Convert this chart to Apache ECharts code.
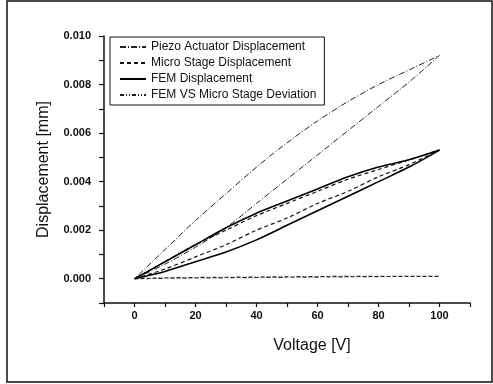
<!DOCTYPE html>
<html>
<head>
<meta charset="utf-8">
<script src="https://cdn.jsdelivr.net/npm/echarts@6/dist/echarts.min.js"></script>
<style>
  html, body { margin: 0; padding: 0; background: #fff; }
  #chart { width: 493px; height: 384px; }
</style>
</head>
<body>
<div id="chart"></div>
<script>
// voltage steps, up sweep then down sweep (hysteresis loops)
const voltage = [0, 10, 20, 30, 40, 50, 60, 70, 80, 90, 100];

const piezoUp = [0, 0.0006, 0.0013, 0.0021, 0.0031, 0.0041, 0.0051, 0.0061, 0.0071, 0.0081, 0.0092];
const piezoDown = [0, 0.0012, 0.0024, 0.0035, 0.0046, 0.0056, 0.0065, 0.0073, 0.0080, 0.0086, 0.0092];

const stageUp = [0, 0.0004, 0.0009, 0.0014, 0.0020, 0.0025, 0.0031, 0.0036, 0.0042, 0.0047, 0.0053];
const stageDown = [0, 0.0007, 0.0014, 0.0020, 0.0026, 0.0031, 0.0036, 0.0041, 0.0045, 0.0049, 0.0053];

const femUp = [0, 0.0003, 0.0007, 0.0011, 0.0016, 0.0022, 0.0028, 0.0034, 0.0040, 0.0046, 0.0053];
const femDown = [0, 0.0007, 0.0014, 0.0021, 0.0027, 0.0032, 0.0037, 0.0042, 0.0046, 0.0049, 0.0053];

const devUp = [0, 0.00002, 0.00003, 0.00004, 0.00005, 0.00006, 0.00007, 0.00008, 0.00009, 0.0001, 0.0001];
const devDown = [0, 0.00004, 0.00005, 0.00006, 0.00007, 0.00008, 0.00009, 0.0001, 0.0001, 0.0001, 0.0001];

const names = [
  'Piezo Actuator Displacement',
  'Micro Stage Displacement',
  'FEM Displacement',
  'FEM VS Micro Stage Deviation',
];

function loop(up, down) {
  const pts = voltage.map((v, i) => [v, up[i]]);
  for (let i = voltage.length - 2; i >= 0; i--) {
    pts.push([voltage[i], down[i]]);
  }
  return pts;
}

const chart = echarts.init(document.getElementById('chart'));
const font = 'Liberation Sans, Arial, sans-serif';

const option = {
  animation: false,
  backgroundColor: '#fff',
  color: ['#222', '#111', '#000', '#222'],
  graphic: [
    {
      type: 'rect',
      shape: { x: 7, y: 1, width: 485, height: 381 },
      style: { fill: 'none', stroke: '#111', lineWidth: 1.5 },
      silent: true,
    },
  ],
  legend: {
    data: names,
    orient: 'vertical',
    left: 110,
    top: 37,
    itemWidth: 26,
    itemHeight: 10,
    itemGap: 4,
    padding: [4, 8, 4, 9],
    borderColor: '#111',
    borderWidth: 1,
    itemStyle: { opacity: 0 },
    textStyle: { fontFamily: font, fontSize: 12, color: '#111' },
  },
  grid: {
    left: 104,
    right: 23,
    top: 36,
    bottom: 81,
  },
  xAxis: {
    type: 'value',
    min: -10,
    max: 110,
    interval: 10,
    name: 'Voltage [V]',
    nameLocation: 'middle',
    nameGap: 35,
    nameTextStyle: { fontFamily: font, fontSize: 16, color: '#111', padding: [0, 0, 0, 50] },
    axisLine: { onZero: false, lineStyle: { color: '#111', width: 1.5 } },
    axisTick: { length: 4, lineStyle: { color: '#111', width: 1.2 } },
    splitLine: { show: false },
    axisLabel: {
      fontFamily: font,
      fontSize: 11,
      fontWeight: 'bold',
      color: '#111',
      margin: 7,
      showMinLabel: true,
      showMaxLabel: true,
      formatter: v => (v < 0 || v > 100 || v % 20 !== 0 ? '' : v),
    },
  },
  yAxis: {
    type: 'value',
    min: -0.001,
    max: 0.010,
    interval: 0.001,
    name: 'Displacement [mm]',
    nameLocation: 'middle',
    nameGap: 52,
    nameTextStyle: { fontFamily: font, fontSize: 16, color: '#111' },
    axisLine: { show: true, onZero: false, lineStyle: { color: '#111', width: 1.5 } },
    axisTick: { length: 5, lineStyle: { color: '#111', width: 1.2 } },
    splitLine: { show: false },
    axisLabel: {
      fontFamily: font,
      fontSize: 11,
      fontWeight: 'bold',
      color: '#111',
      margin: 13,
      formatter: function (v) {
        const k = Math.round(v * 1000);
        if (k < 0 || k % 2 !== 0) return '';
        return (k / 1000).toFixed(3);
      },
    },
  },
  series: [
    {
      name: names[0],
      type: 'line',
      data: loop(piezoUp, piezoDown),
      showSymbol: false,
      symbol: 'none',
      smooth: 0.3,
      lineStyle: { color: '#222', width: 1, type: [6, 2, 1, 2] },
    },
    {
      name: names[1],
      type: 'line',
      data: loop(stageUp, stageDown),
      showSymbol: false,
      symbol: 'none',
      smooth: 0.3,
      lineStyle: { color: '#111', width: 1.2, type: [4, 3] },
    },
    {
      name: names[2],
      type: 'line',
      data: loop(femUp, femDown),
      showSymbol: false,
      symbol: 'none',
      smooth: 0.3,
      lineStyle: { color: '#000', width: 1.6, type: 'solid' },
    },
    {
      name: names[3],
      type: 'line',
      data: loop(devUp, devDown),
      showSymbol: false,
      symbol: 'none',
      lineStyle: { color: '#222', width: 1.2, type: [4, 2, 1, 2, 1, 2] },
    },
  ],
};

chart.setOption(option);
</script>
</body>
</html>
